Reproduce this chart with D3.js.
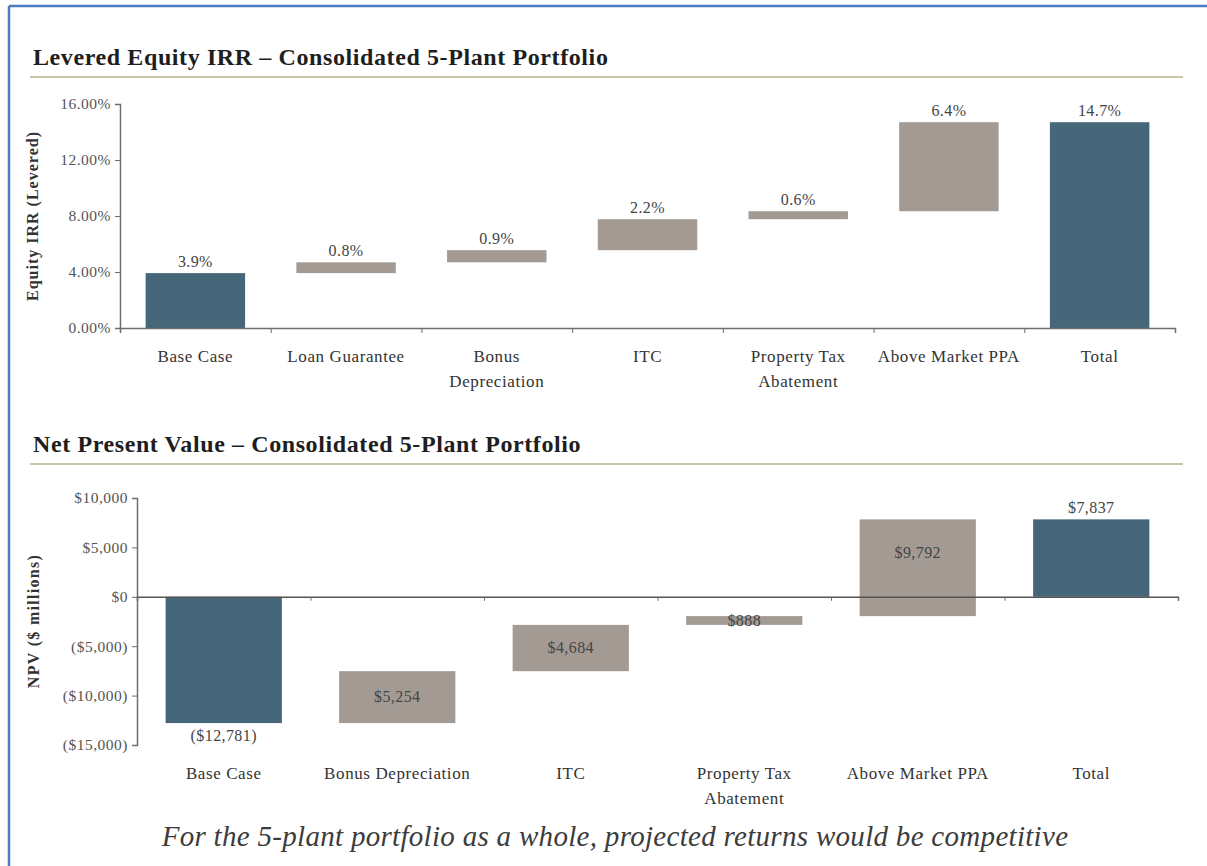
<!DOCTYPE html>
<html>
<head>
<meta charset="utf-8">
<script src="https://cdn.jsdelivr.net/npm/d3@7"></script>
<style>
  html, body { margin: 0; padding: 0; background: #fff; }
  svg { display: block; }
  text { font-family: "Liberation Serif", "DejaVu Serif", serif; }
</style>
</head>
<body>
<div id="chart"></div>
<script>
// top chart: levered equity IRR (%)
var irrCategories = ["Base Case", "Loan Guarantee", "Bonus\nDepreciation", "ITC", "Property Tax\nAbatement", "Above Market PPA", "Total"];
var irrValues = [3.92, 0.77, 0.87, 2.21, 0.57, 6.36, 14.70];
var irrLabels = ["3.9%", "0.8%", "0.9%", "2.2%", "0.6%", "6.4%", "14.7%"];
var irrTicks = [0, 4, 8, 12, 16];

// bottom chart: NPV ($ millions)
var npvCategories = ["Base Case", "Bonus Depreciation", "ITC", "Property Tax\nAbatement", "Above Market PPA", "Total"];
var npvValues = [-12781, 5254, 4684, 888, 9792, 7837];
var npvLabels = ["($12,781)", "$5,254", "$4,684", "$888", "$9,792", "$7,837"];
var npvTicks = [-15000, -10000, -5000, 0, 5000, 10000];

var W = 1207, H = 866;
var blue = "#46667a", grey = "#a39b93", axisCol = "#6e6e6e";

var svg = d3.select("#chart").append("svg")
  .attr("width", W).attr("height", H);

// frame
svg.append("line").attr("x1", 9).attr("x2", W).attr("y1", 6).attr("y2", 6)
  .attr("stroke", "#4a7cc4").attr("stroke-width", 2.5);
svg.append("line").attr("x1", 9).attr("x2", 9).attr("y1", 6).attr("y2", H)
  .attr("stroke", "#4a7cc4").attr("stroke-width", 2.5);

function heading(txt, y, ruleY) {
  svg.append("text").attr("x", 33).attr("y", y)
    .attr("font-size", 24).attr("font-weight", "bold").attr("fill", "#1e1e1e")
    .attr("letter-spacing", 0.6)
    .text(txt);
  svg.append("line").attr("x1", 30).attr("x2", 1183).attr("y1", ruleY).attr("y2", ruleY)
    .attr("stroke", "#c9c5aa").attr("stroke-width", 2);
}

// waterfall segments: first and last are full bars, the rest float
function steps(vals) {
  var run = 0;
  return vals.map(function(v, i) {
    if (i === 0 || i === vals.length - 1) { run = v; return {a: 0, b: v, total: true}; }
    var s = {a: run, b: run + v, total: false};
    run += v;
    return s;
  });
}

function catLabels(g, x, cats, y) {
  cats.forEach(function(c, i) {
    var t = g.append("text").attr("text-anchor", "middle")
      .attr("font-size", 17).attr("letter-spacing", 0.6).attr("fill", "#333");
    c.split("\n").forEach(function(line, j) {
      t.append("tspan").attr("x", x(i) + x.bandwidth() / 2)
        .attr("y", y + j * 25).text(line);
    });
  });
}

function styleAxis(g) {
  g.select(".domain").attr("stroke", axisCol).attr("stroke-width", 1.5);
  g.selectAll(".tick line").attr("stroke", axisCol);
  g.selectAll(".tick text").attr("fill", "#555")
    .style("font-family", "'Liberation Serif', serif").attr("font-size", 15.5)
    .attr("letter-spacing", 0.5);
}

// ---------- top chart ----------
heading("Levered Equity IRR \u2013 Consolidated 5-Plant Portfolio", 65, 77);

var x1 = d3.scaleBand().domain(d3.range(irrCategories.length)).range([120, 1175]).paddingInner(0.34).paddingOuter(0.17);
var y1 = d3.scaleLinear().domain([0, 16]).range([328, 104]);
var topG = svg.append("g");
var irrSteps = steps(irrValues);

topG.selectAll("rect").data(irrSteps).enter().append("rect")
  .attr("x", function(d, i) { return x1(i); })
  .attr("width", x1.bandwidth())
  .attr("y", function(d) { return y1(Math.max(d.a, d.b)); })
  .attr("height", function(d) { return Math.abs(y1(d.a) - y1(d.b)); })
  .attr("fill", function(d) { return d.total ? blue : grey; });

topG.selectAll(".vl").data(irrSteps).enter().append("text")
  .attr("x", function(d, i) { return x1(i) + x1.bandwidth() / 2; })
  .attr("y", function(d) { return y1(Math.max(d.a, d.b)) - 6; })
  .attr("text-anchor", "middle").attr("font-size", 16).attr("letter-spacing", 0.4).attr("fill", "#444")
  .text(function(d, i) { return irrLabels[i]; });

var yAx1 = topG.append("g").attr("transform", "translate(120,0)")
  .call(d3.axisLeft(y1).tickValues(irrTicks).tickSize(5).tickPadding(4)
    .tickFormat(function(d) { return d3.format(".2f")(d) + "%"; }));
styleAxis(yAx1);

var xLin1 = d3.scaleLinear().domain([0, irrCategories.length]).range([120, 1175]);
var xAx1 = topG.append("g").attr("transform", "translate(0,328)")
  .call(d3.axisBottom(xLin1).ticks(irrCategories.length).tickSize(5).tickSizeOuter(5).tickFormat(""));
styleAxis(xAx1);

catLabels(topG, x1, irrCategories, 362);

topG.append("text").attr("transform", "translate(38,216) rotate(-90)")
  .attr("text-anchor", "middle").attr("font-size", 16).attr("font-weight", "bold")
  .attr("letter-spacing", 1).attr("fill", "#333").text("Equity IRR (Levered)");

// ---------- bottom chart ----------
heading("Net Present Value \u2013 Consolidated 5-Plant Portfolio", 452, 464);

var x2 = d3.scaleBand().domain(d3.range(npvCategories.length)).range([137, 1178]).paddingInner(0.33).paddingOuter(0.165);
var y2 = d3.scaleLinear().domain([-15000, 10000]).range([745, 498]);
var botG = svg.append("g");
var npvSteps = steps(npvValues);

botG.selectAll("rect").data(npvSteps).enter().append("rect")
  .attr("x", function(d, i) { return x2(i); })
  .attr("width", x2.bandwidth())
  .attr("y", function(d) { return y2(Math.max(d.a, d.b)); })
  .attr("height", function(d) { return Math.abs(y2(d.a) - y2(d.b)); })
  .attr("fill", function(d) { return d.total ? blue : grey; });

var yAx2 = botG.append("g").attr("transform", "translate(137,0)")
  .call(d3.axisLeft(y2).tickValues(npvTicks).tickSize(5).tickPadding(4)
    .tickFormat(function(d) {
      var s = "$" + d3.format(",")(Math.abs(d));
      return d < 0 ? "(" + s + ")" : s;
    }));
styleAxis(yAx2);

var xLin2 = d3.scaleLinear().domain([0, npvCategories.length]).range([137, 1178]);
var xAx2 = botG.append("g").attr("transform", "translate(0," + y2(0) + ")")
  .call(d3.axisBottom(xLin2).ticks(npvCategories.length).tickSize(4).tickSizeOuter(4).tickFormat(""));
styleAxis(xAx2);
xAx2.select(".domain").attr("stroke", "#555");

botG.selectAll(".vl").data(npvSteps).enter().append("text")
  .attr("x", function(d, i) { return x2(i) + x2.bandwidth() / 2; })
  .attr("y", function(d, i) {
    var hi = Math.max(d.a, d.b), lo = Math.min(d.a, d.b);
    if (d.total) return hi > 0 ? y2(hi) - 6 : y2(lo) + 18;
    if (lo < 0 && hi > 0) return y2(hi / 2);
    return y2((hi + lo) / 2) + 5;
  })
  .attr("text-anchor", "middle").attr("font-size", 16).attr("letter-spacing", 0.4).attr("fill", "#444")
  .text(function(d, i) { return npvLabels[i]; });

catLabels(botG, x2, npvCategories, 779);

botG.append("text").attr("transform", "translate(39,621) rotate(-90)")
  .attr("text-anchor", "middle").attr("font-size", 16).attr("font-weight", "bold")
  .attr("letter-spacing", 1.3).attr("fill", "#333").text("NPV ($ millions)");

// caption
svg.append("text").attr("x", 615).attr("y", 846).attr("text-anchor", "middle")
  .attr("font-size", 29).attr("font-style", "italic").attr("letter-spacing", 0.3).attr("fill", "#3c3c3c")
  .text("For the 5-plant portfolio as a whole, projected returns would be competitive");
</script>
</body>
</html>
